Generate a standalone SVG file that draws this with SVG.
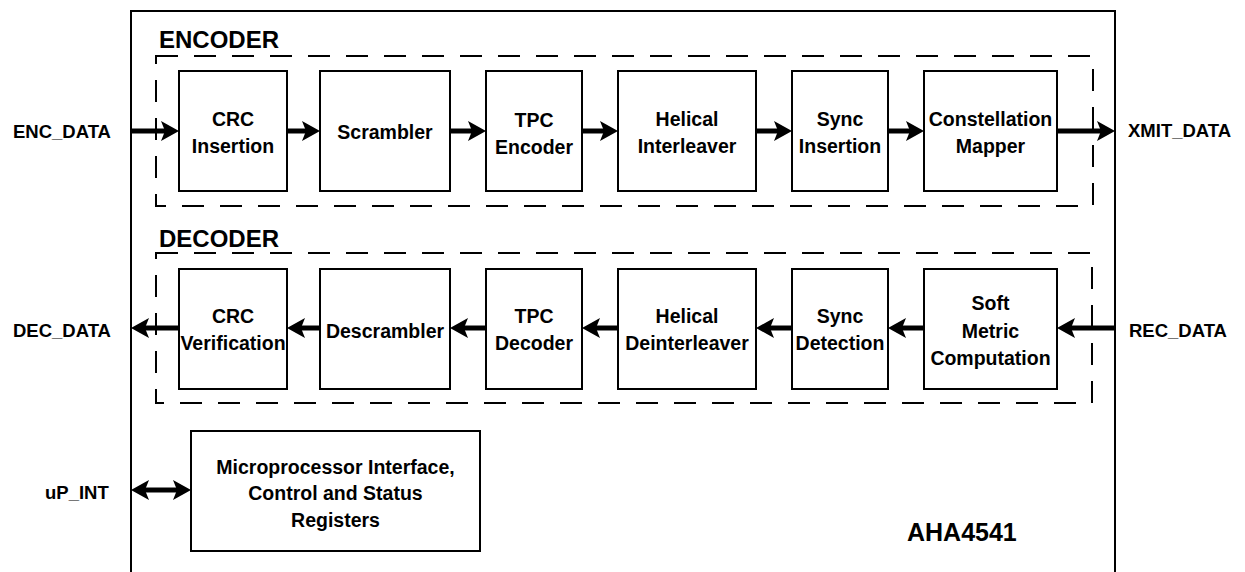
<svg xmlns="http://www.w3.org/2000/svg" width="1245" height="572" viewBox="0 0 1245 572">
<style>
text{font-family:"Liberation Sans",Arial,Helvetica,sans-serif;font-weight:bold;fill:#000}
.blk{fill:#fff;stroke:#000;stroke-width:2}
.lbl{font-size:19.5px;text-anchor:middle}
.port{font-size:18.5px}
.title{font-size:24px}
.dash{fill:none;stroke:#000;stroke-width:2;stroke-dasharray:22 16}
.con{stroke:#000;stroke-width:5;fill:none;marker-end:url(#ah)}
</style>
<defs>
<marker id="ah" markerUnits="userSpaceOnUse" markerWidth="18" markerHeight="20" refX="4" refY="10" orient="auto-start-reverse" viewBox="0 0 18 20">
<path d="M0,0 L18,10 L0,20 L4,10 z" fill="#000"/>
</marker>
</defs>
<rect width="1245" height="572" fill="#fff"/>
<g id="chip">
<path d="M131,572 V11 H1115 V572" fill="none" stroke="#000" stroke-width="2"/>
<text x="907" y="541" style="font-size:25px">AHA4541</text>
</g>
<g id="encoder">
<rect class="dash" x="156" y="56" width="937" height="150"/>
<text class="title" x="159" y="48">ENCODER</text>
</g>
<g id="decoder">
<rect class="dash" x="156" y="253" width="936" height="150"/>
<text class="title" x="159" y="247">DECODER</text>
</g>
<g id="crc-insertion"><rect class="blk" x="179" y="71" width="108" height="120"/><text class="lbl" x="233" y="126">CRC</text><text class="lbl" x="233" y="153">Insertion</text></g>
<g id="scrambler"><rect class="blk" x="320" y="71" width="130" height="120"/><text class="lbl" x="385" y="139">Scrambler</text></g>
<g id="tpc-encoder"><rect class="blk" x="486" y="71" width="96" height="120"/><text class="lbl" x="534" y="127">TPC</text><text class="lbl" x="534" y="154">Encoder</text></g>
<g id="helical-interleaver"><rect class="blk" x="618" y="71" width="138" height="120"/><text class="lbl" x="687" y="126">Helical</text><text class="lbl" x="687" y="153">Interleaver</text></g>
<g id="sync-insertion"><rect class="blk" x="792" y="71" width="96" height="120"/><text class="lbl" x="840" y="126">Sync</text><text class="lbl" x="840" y="153">Insertion</text></g>
<g id="constellation-mapper"><rect class="blk" x="924" y="71" width="133" height="120"/><text class="lbl" x="990.5" y="126">Constellation</text><text class="lbl" x="990.5" y="153">Mapper</text></g>
<g id="crc-verification"><rect class="blk" x="179" y="269" width="108" height="120"/><text class="lbl" x="233" y="323">CRC</text><text class="lbl" x="233" y="350">Verification</text></g>
<g id="descrambler"><rect class="blk" x="320" y="269" width="130" height="120"/><text class="lbl" x="385" y="338">Descrambler</text></g>
<g id="tpc-decoder"><rect class="blk" x="486" y="269" width="96" height="120"/><text class="lbl" x="534" y="323">TPC</text><text class="lbl" x="534" y="350">Decoder</text></g>
<g id="helical-deinterleaver"><rect class="blk" x="618" y="269" width="138" height="120"/><text class="lbl" x="687" y="323">Helical</text><text class="lbl" x="687" y="350">Deinterleaver</text></g>
<g id="sync-detection"><rect class="blk" x="792" y="269" width="96" height="120"/><text class="lbl" x="840" y="323">Sync</text><text class="lbl" x="840" y="350">Detection</text></g>
<g id="soft-metric"><rect class="blk" x="924" y="269" width="133" height="120"/><text class="lbl" x="990.5" y="310">Soft</text><text class="lbl" x="990.5" y="338">Metric</text><text class="lbl" x="990.5" y="365">Computation</text></g>
<g id="microprocessor"><rect class="blk" x="191" y="431" width="289" height="120"/><text class="lbl" x="335.5" y="474">Microprocessor Interface,</text><text class="lbl" x="335.5" y="500">Control and Status</text><text class="lbl" x="335.5" y="527">Registers</text></g>
<g id="ports">
<text class="port" x="13" y="138">ENC_DATA</text>
<text class="port" x="1128" y="137">XMIT_DATA</text>
<text class="port" x="13" y="337">DEC_DATA</text>
<text class="port" x="1129" y="337">REC_DATA</text>
<text class="port" x="45" y="499">uP_INT</text>
</g>
<g id="connectors">
<path class="con" d="M131,131 H165"/>
<path class="con" d="M287,131 H306"/>
<path class="con" d="M450,131 H472"/>
<path class="con" d="M582,131 H604"/>
<path class="con" d="M756,131 H778"/>
<path class="con" d="M888,131 H910"/>
<path class="con" d="M1057,131 H1101"/>
<path class="con" d="M1115,328 H1071"/>
<path class="con" d="M924,328 H902"/>
<path class="con" d="M792,328 H770"/>
<path class="con" d="M618,328 H596"/>
<path class="con" d="M486,328 H464"/>
<path class="con" d="M320,328 H301"/>
<path class="con" d="M179,328 H145"/>
<path class="con" d="M145,490 H177" style="marker-start:url(#ah)"/>
</g>
</svg>
